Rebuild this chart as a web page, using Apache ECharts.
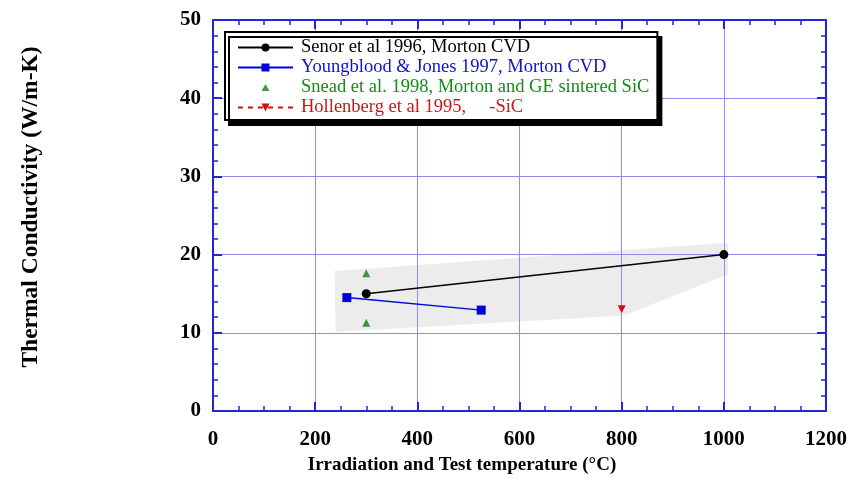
<!DOCTYPE html>
<html><head><meta charset="utf-8">
<script src="https://cdn.jsdelivr.net/npm/echarts@6/dist/echarts.min.js"></script>
<style>html,body{margin:0;padding:0;background:#fff}#c{width:858px;height:480px}</style>
</head><body><div id="c"></div>
<script>
// ---- data ----
const senorName = 'Senor et al 1996, Morton CVD';
const senorX = [300, 1000];
const senorY = [15.0, 20.0];

const youngName = 'Youngblood & Jones 1997, Morton CVD';
const youngX = [262, 525];
const youngY = [14.5, 12.9];

const sneadName = 'Snead et al. 1998, Morton and GE sintered SiC';
const sneadX = [300, 300];
const sneadY = [17.6, 11.3];

const hollName = 'Hollenberg et al 1995,     -SiC';
const hollX = [800];
const hollY = [13.0];

// shaded band (grey polygon vertices)
const bandX = [238, 1008, 1008, 805, 240];
const bandY = [17.9, 21.5, 17.5, 12.2, 10.1];

const xMin = 0, xMax = 1200, xStep = 200;
const yMin = 0, yMax = 50, yStep = 10;
const xTitle = 'Irradiation and Test temperature (°C)';
const yTitle = 'Thermal Conductivity (W/m-K)';

// ---- styles ----
const FONT = 'Liberation Serif';
const axisColor = '#2525d8';
const gridColor = '#8c8cf2';
const zip = (xs, ys) => xs.map((x, i) => [x, ys[i]]);

function axisCommon(extra) {
  return Object.assign({
    type: 'value',
    axisLine: { show: true, onZero: false, lineStyle: { color: axisColor, width: 2 } },
    axisTick: { show: true, inside: true, length: 9, lineStyle: { color: axisColor, width: 2 } },
    splitLine: { show: false }
  }, extra);
}
const labelStyle = { color: '#000', fontFamily: FONT, fontWeight: 'bold', fontSize: 21 };
const plain = v => String(v);

// small centred triangle inside a wide (55x10) legend icon box
const smallTriangleIcon = 'path://M0,10L0,10M27.5,1.5L31.5,8.5L23.5,8.5ZM55,0L55,0';

const chart = echarts.init(document.getElementById('c'), null, { renderer: 'canvas' });
chart.setOption({
  animation: false,
  backgroundColor: '#fff',
  grid: { left: 213, right: 32, top: 20, bottom: 69, containLabel: false },
  xAxis: [
    axisCommon({
      position: 'bottom', min: xMin, max: xMax, interval: xStep,
      minorTick: { show: true, splitNumber: 4, length: 5, lineStyle: { color: axisColor, width: 1.5 } },
      splitLine: { show: true, lineStyle: { color: gridColor, width: 1 } },
      axisLabel: Object.assign({ margin: 18, formatter: plain }, labelStyle),
      name: xTitle, nameLocation: 'middle', nameGap: 45,
      nameTextStyle: Object.assign({}, labelStyle, { fontSize: 19, padding: [0, 115, 0, 0] })
    }),
    axisCommon({
      position: 'top', min: xMin, max: xMax, interval: xStep,
      minorTick: { show: true, splitNumber: 4, length: 5, lineStyle: { color: axisColor, width: 1.5 } },
      axisLabel: { show: false }
    })
  ],
  yAxis: [
    axisCommon({
      position: 'left', min: yMin, max: yMax, interval: yStep,
      minorTick: { show: true, splitNumber: 5, length: 5, lineStyle: { color: axisColor, width: 1.5 } },
      splitLine: { show: true, lineStyle: { color: gridColor, width: 1 } },
      axisLabel: Object.assign({ margin: 12, formatter: plain }, labelStyle),
      name: yTitle, nameLocation: 'middle', nameGap: 170, nameRotate: 90,
      nameTextStyle: Object.assign({}, labelStyle, { fontSize: 23.5, padding: [0, 0, 0, 17] })
    }),
    axisCommon({
      position: 'right', min: yMin, max: yMax, interval: yStep,
      minorTick: { show: true, splitNumber: 5, length: 5, lineStyle: { color: axisColor, width: 1.5 } },
      axisLabel: { show: false }
    })
  ],
  legend: {
    orient: 'vertical',
    left: 225, top: 32,
    padding: [6, 8, 3, 12],
    itemGap: 1,
    itemWidth: 55,
    itemHeight: 10,
    backgroundColor: '#fff',
    borderColor: '#000',
    borderWidth: 2,
    borderRadius: 0,
    shadowColor: '#000',
    shadowBlur: 0,
    shadowOffsetX: 4,
    shadowOffsetY: 5,
    textStyle: { fontFamily: FONT, fontSize: 18.5, lineHeight: 19, padding: [0, 0, 0, 3] },
    data: [
      { name: senorName, textStyle: { color: '#000' } },
      { name: youngName, textStyle: { color: '#1010d0' } },
      { name: sneadName, icon: smallTriangleIcon, textStyle: { color: '#158a15' } },
      { name: hollName, textStyle: { color: '#cc1515' } }
    ]
  },
  series: [
    {
      type: 'custom', name: 'band', silent: true, z: -1,
      data: zip(bandX, bandY),
      renderItem: function (params, api) {
        if (params.dataIndex !== 0) return null;
        const pts = bandX.map((x, i) => api.coord([x, bandY[i]]));
        return { type: 'polygon', shape: { points: pts }, style: { fill: '#ececec' } };
      }
    },
    {
      type: 'line', name: senorName, data: zip(senorX, senorY),
      symbol: 'circle', symbolSize: 9,
      lineStyle: { color: '#000', width: 1.5 },
      itemStyle: { color: '#000' }
    },
    {
      type: 'line', name: youngName, data: zip(youngX, youngY),
      symbol: 'rect', symbolSize: 9,
      lineStyle: { color: '#0000d8', width: 1.5 },
      itemStyle: { color: '#0000d8' }
    },
    {
      type: 'scatter', name: sneadName, data: zip(sneadX, sneadY),
      symbol: 'triangle', symbolSize: 8,
      itemStyle: { color: '#108010' }
    },
    {
      type: 'line', name: hollName, data: zip(hollX, hollY),
      symbol: 'triangle', symbolRotate: 180, symbolSize: 8,
      lineStyle: { color: '#d01010', width: 1.5, type: [5, 5] },
      itemStyle: { color: '#d01010' }
    }
  ]
});
</script>
</body></html>
